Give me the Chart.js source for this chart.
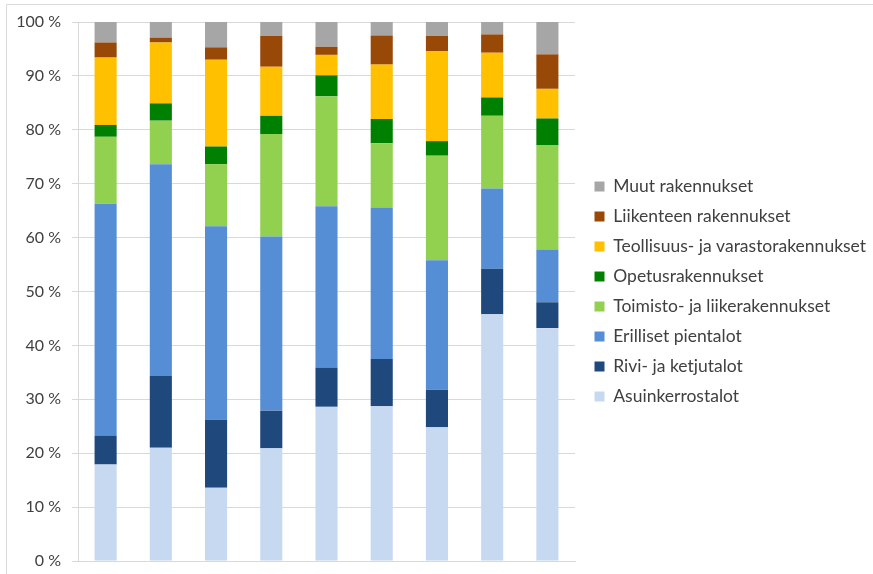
<!DOCTYPE html>
<html>
<head>
<meta charset="utf-8">
<script src="https://cdn.jsdelivr.net/npm/chart.js@4/dist/chart.umd.min.js"></script>
<style>
	html, body { margin: 0; padding: 0; background: #fff; }
	#wrap { width: 873px; height: 574px; }
</style>
</head>
<body>
<div id="wrap"><canvas id="chart" width="873" height="574"></canvas></div>
<script>
	'use strict';

	// nine unlabeled columns
	const categories = ['', '', '', '', '', '', '', '', ''];

	const asuinkerrostalot = [17.9, 21.0, 13.6, 20.9, 28.6, 28.7, 24.8, 45.8, 43.2];
	const riviJaKetjutalot = [5.3, 13.3, 12.6, 7.0, 7.3, 8.8, 7.0, 8.4, 4.8];
	const erillisetPientalot = [43.1, 39.3, 35.9, 32.3, 29.9, 28.1, 24.0, 14.9, 9.8];
	const toimistoJaLiike = [12.4, 8.1, 11.5, 19.0, 20.4, 11.9, 19.4, 13.5, 19.3];
	const opetus = [2.2, 3.2, 3.3, 3.4, 3.9, 4.5, 2.7, 3.4, 5.0];
	const teollisuusJaVarasto = [12.5, 11.3, 16.1, 9.1, 3.8, 10.1, 16.7, 8.3, 5.5];
	const liikenne = [2.8, 0.9, 2.3, 5.7, 1.5, 5.4, 2.8, 3.4, 6.4];
	const muut = [3.8, 2.9, 4.7, 2.6, 4.6, 2.5, 2.6, 2.3, 6.0];

	const yTicks = [0, 10, 20, 30, 40, 50, 60, 70, 80, 90, 100];

	const gridColor = '#d9d9d9';
	const textColor = '#404040';
	const fontFamily = 'Lato, "Open Sans", sans-serif';

	// the cropped outer chart frame (top and left edges only)
	const framePlugin = {
		id: 'frame',
		beforeDraw(chart) {
			const ctx = chart.ctx;
			ctx.save();
			ctx.strokeStyle = gridColor;
			ctx.lineWidth = 1;
			ctx.beginPath();
			ctx.moveTo(6.5, chart.height);
			ctx.lineTo(6.5, 4.5);
			ctx.lineTo(chart.width, 4.5);
			ctx.stroke();
			ctx.restore();
		},
	};

	const series = (label, data, color) => ({
		label,
		data,
		backgroundColor: color,
		borderWidth: 0,
		barPercentage: 0.4,
		categoryPercentage: 1,
	});

	new Chart(document.getElementById('chart'), {
		type: 'bar',
		data: {
			labels: categories,
			datasets: [
				series('Asuinkerrostalot', asuinkerrostalot, '#c6d9f1'),
				series('Rivi- ja ketjutalot', riviJaKetjutalot, '#1f497d'),
				series('Erilliset pientalot', erillisetPientalot, '#558ed5'),
				series('Toimisto- ja liikerakennukset', toimistoJaLiike, '#92d050'),
				series('Opetusrakennukset', opetus, '#008000'),
				series('Teollisuus- ja varastorakennukset', teollisuusJaVarasto, '#ffc000'),
				series('Liikenteen rakennukset', liikenne, '#984807'),
				series('Muut rakennukset', muut, '#a6a6a6'),
			],
		},
		options: {
			responsive: false,
			animation: false,
			layout: { padding: { top: 22, right: 0, bottom: 13, left: 0 } },
			plugins: {
				tooltip: { enabled: false },
				legend: {
					position: 'right',
					reverse: true,
					maxWidth: 291,
					labels: {
						boxWidth: 10,
						boxHeight: 10,
						padding: 12.5,
						color: textColor,
						font: { family: fontFamily, size: 17.5 },
					},
				},
			},
			scales: {
				x: {
					stacked: true,
					grid: { display: false, drawTicks: false },
					border: { display: true, color: gridColor },
					ticks: { display: false },
					afterFit: (axis) => {
						axis.height = 0;
					},
				},
				y: {
					stacked: true,
					min: 0,
					max: 100,
					afterBuildTicks: (axis) => {
						axis.ticks = yTicks.map((v) => ({ value: v }));
					},
					afterFit: (axis) => {
						axis.width = 78;
						axis.paddingTop = 0;
						axis.paddingBottom = 0;
					},
					grid: { color: gridColor, tickLength: 6 },
					border: { display: true, color: gridColor },
					ticks: {
						padding: 11,
						color: textColor,
						font: { family: fontFamily, size: 16 },
						callback: (v) => v + ' %',
					},
				},
				// empty spacer between plot and legend
				gap: {
					type: 'linear',
					position: 'right',
					display: true,
					grid: { display: false },
					border: { display: false },
					ticks: { display: false },
					afterFit: (axis) => {
						axis.width = 7;
						axis.paddingTop = 0;
						axis.paddingBottom = 0;
					},
				},
			},
		},
		plugins: [framePlugin],
	});
</script>
</body>
</html>
